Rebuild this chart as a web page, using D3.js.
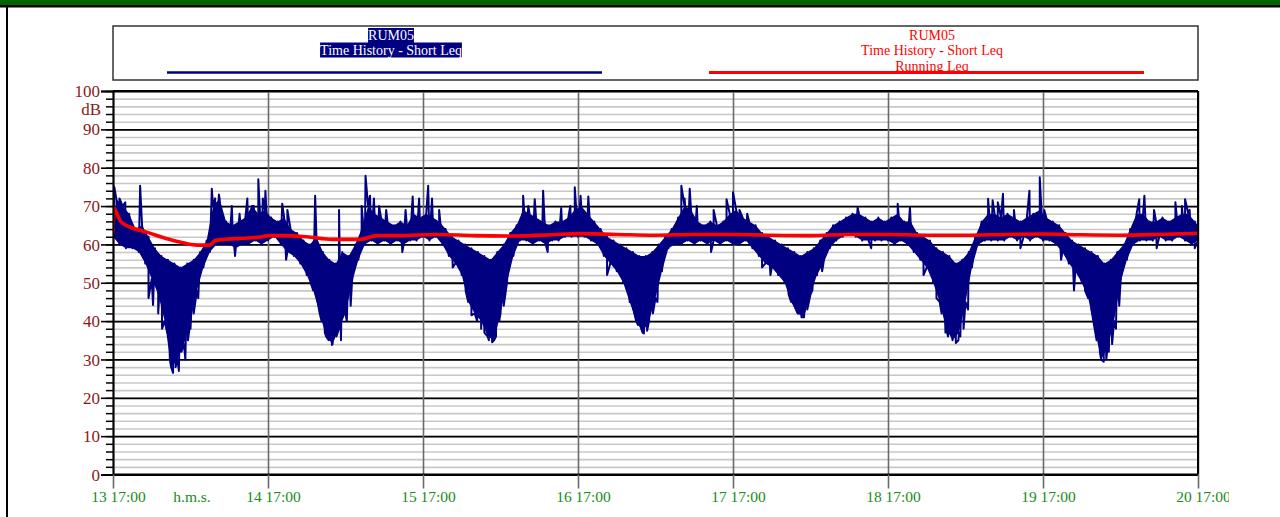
<!DOCTYPE html>
<html>
<head>
<meta charset="utf-8">
<script src="https://cdn.jsdelivr.net/npm/d3@7"></script>
<style>
  body { margin: 0; background: #ffffff; }
  svg { display: block; font-family: "Liberation Serif", "Times New Roman", serif; }
</style>
</head>
<body>
<div id="chart"></div>
<script>
// x = hours since 13 17:00, y = dB
var dayLabels = ["13 17:00", "14 17:00", "15 17:00", "16 17:00", "17 17:00", "18 17:00", "19 17:00", "20 17:00"];
var yMajor = [0, 10, 20, 30, 40, 50, 60, 70, 80, 90, 100];

// Short Leq, hourly band (low / high)
var shortLo = [
  62,60,59,59,58,55,51,47,40,28,30,34,40,48,54,58,60,60,60,59,60,60,61,60,
  61,62,60,58,57,55,52,48,42,36,34,38,42,50,56,60,61,60,61,60,61,60,61,61,
  62,61,62,60,57,55,52,45,42,40,36,35,42,50,57,61,61,60,61,60,61,61,62,62,
  62,62,61,60,57,55,53,50,45,40,37,40,46,53,59,60,60,61,60,61,60,61,60,61,
  60,60,61,59,57,55,54,52,50,45,42,41,47,52,55,59,61,62,63,62,61,61,61,61,
  61,60,61,60,58,56,54,50,45,38,35,37,45,54,60,61,61,61,61,62,61,62,61,62,
  61,61,60,58,55,53,50,46,38,30,33,40,50,56,60,61,61,61,62,61,61,62,61,60,
  61
];
var shortHi = [
  72,70,68,64,65,62,59,57,56,55,54,55,56,58,61,70,72,66,65,66,67,70,68,69,
  67,66,67,64,63,61,60,62,58,56,55,58,57,60,64,70,68,67,66,65,66,65,68,67,
  68,67,66,64,62,61,60,59,58,57,56,58,60,63,65,69,68,67,66,65,66,66,67,69,
  70,68,66,64,62,61,60,59,58,57,57,58,60,62,64,67,70,69,66,65,66,65,66,68,
  69,67,66,65,63,62,61,60,59,58,57,58,59,61,63,65,66,67,68,68,67,66,67,66,
  67,68,66,66,63,62,61,59,58,57,55,56,58,62,66,68,68,67,68,67,66,67,68,69,
  67,66,65,63,61,60,59,58,57,55,56,58,60,64,68,68,66,66,67,66,67,68,68,66,
  65
];
// short peaks above the band [hour, dB]
var peaksUp = [
  [0.2,75],[1.0,72],[1.9,71],[4.2,75.3],[15.3,74.5],[15.8,72],[16.4,73],[18.4,70],[19.6,68],
  [20.8,72],[21.8,70],[22.5,77],[23.2,72],[23.6,74],[26.2,70.6],[27.0,69],[31.3,72.7],[35.0,69],
  [38.5,70],[39.1,77.9],[39.8,72.7],[40.4,72],[41.2,70],[42.3,69],[45.3,69],[46.4,72.5],[47.4,72],
  [48.8,75.3],[49.4,72],[50.5,69],[63.5,72.7],[64.3,70],[65.3,71.8],[66.6,74],[69.4,69.5],
  [70.8,70],[71.5,74.9],[72.4,72.7],[73.6,72.5],[88.0,75.3],[88.5,72],[89.3,74.5],[90.4,70],
  [93.0,69],[95.0,71.8],[96.0,73.6],[97.0,69],[98.2,68],[115.3,69.7],[121.5,70.6],[123.4,69.7],
  [135.5,71.9],[136.2,71.5],[137.0,71],[137.8,73.2],[139.5,69],[141.9,74],[143.5,77.5],[144.2,69],
  [158.9,71.8],[159.7,72.7],[161.2,69],[164.5,71],[165.5,70],[166.0,71.8],[166.7,69]
];
// short dips below the band [hour, dB]
var peaksDown = [
  [5.5,46],[6.2,44.2],[7.0,42],[7.6,38],[8.4,37],[8.8,30],[9.3,26.5],[9.7,28],[10.2,27],[10.6,32],
  [11.2,30],[11.6,35],[12.0,38],[12.5,42],[13.2,46],[18.9,57],[26.8,56],
  [30.6,50],[31.5,47],[32.3,40],[32.8,37],[33.4,35],[33.9,33.8],[34.6,36],[35.3,35],[36.2,40],[36.8,44],
  [44.8,58],[52.6,54],[54.6,48],[55.5,41.5],[56.4,40],[57.0,38],[57.5,37],[58.2,35],[58.7,34.5],
  [59.3,36],[59.8,40],[60.5,44],[67.3,58],[76.5,52],
  [79.9,48.9],[80.6,43],[81.3,39],[81.8,38],[82.2,36.8],[82.7,37.5],[83.0,40],[83.6,42],[84.3,45],
  [92.6,58],[100.5,54],[101.8,52],[104.6,47],[105.5,44],[106.2,42],[106.6,41],[107.0,41.1],
  [107.5,43],[108.3,48],[109.8,53],[117.4,59],[125.5,52],
  [127.5,46],[128.3,42],[128.9,37],[129.3,36],[129.8,38],[130.5,34.3],[130.9,35],[131.2,36],
  [131.7,38],[132.4,43],[140.5,59],[146.8,56],
  [148.8,48],[150.5,48],[151.5,43],[152.3,35],[152.8,32],[153.4,29.4],[153.8,30],[154.2,32],
  [154.7,34],[155.3,38],[155.8,44],[161.6,59],[167.5,59]
];
// Running Leq [hour, dB]
var runningLeq = [
  [0,63],[0.15,69.5],[0.5,68.5],[1.1,66.2],[2,65],[3.1,64.2],[5.2,63.2],[8.3,61.5],[11.4,60.2],
  [13.5,59.8],[15,59.8],[15.8,61],[17,61.3],[20,61.6],[22.8,61.9],[24,62.3],[26,62.3],[30,62],
  [34,61.3],[38.2,61.3],[40.9,62.3],[44.4,62.3],[50,62.6],[56,62.3],[62,62.2],[68,62.5],[72,62.8],
  [78,62.6],[84,62.4],[90,62.6],[96,62.6],[102,62.4],[108,62.3],[114,62.6],[120,62.6],[126,62.4],
  [132,62.4],[138,62.6],[144,62.7],[150,62.5],[156,62.4],[162,62.6],[168,62.9]
];

var width = 1280, height = 517;
var pLeft = 113, pRight = 1198, pTop = 91, pBottom = 474.5;

var svg = d3.select("#chart").append("svg")
  .attr("width", width)
  .attr("height", height)

var defs = svg.append("defs")
defs.append("clipPath").attr("id", "plotclip")
  .append("rect").attr("x", pLeft).attr("y", pTop).attr("width", pRight - pLeft).attr("height", pBottom - pTop)
defs.append("clipPath").attr("id", "pageclip")
  .append("rect").attr("x", 0).attr("y", 0).attr("width", 1229).attr("height", height)

// banner + page border
svg.append("rect").attr("x", 0).attr("y", 0).attr("width", width).attr("height", 6).attr("fill", "#006400")
svg.append("rect").attr("x", 0).attr("y", 5).attr("width", width).attr("height", 2.5).attr("fill", "#000")
svg.append("rect").attr("x", 6).attr("y", 6).attr("width", 2).attr("height", height).attr("fill", "#000")

var x = d3.scaleLinear().domain([0, 168]).range([pLeft, pRight])
var y = d3.scaleLinear().domain([0, 100]).range([pBottom, pTop])

var g = svg.append("g").attr("clip-path", "url(#pageclip)")

// minor horizontal grid every 2 dB
g.append("g")
  .attr("transform", "translate(" + pLeft + ",0)")
  .call(d3.axisLeft(y).tickValues(d3.range(0, 101, 2)).tickSize(-(pRight - pLeft)).tickFormat(""))
  .call(function(a){
    a.select(".domain").remove()
    a.selectAll("line").attr("stroke", "#c8c8c8").attr("stroke-width", 1.6)
  })

// major horizontal grid
g.append("g")
  .attr("transform", "translate(" + pLeft + ",0)")
  .call(d3.axisLeft(y).tickValues(yMajor).tickSize(-(pRight - pLeft)).tickFormat(""))
  .call(function(a){
    a.select(".domain").remove()
    a.selectAll("line").attr("stroke", "#000").attr("stroke-width", 1.8)
  })

// vertical day lines
g.append("g")
  .attr("transform", "translate(0," + pBottom + ")")
  .call(d3.axisBottom(x).tickValues(d3.range(0, 169, 24)).tickSize(-(pBottom - pTop)).tickFormat(""))
  .call(function(a){
    a.select(".domain").remove()
    a.selectAll("line").attr("stroke", "#6a6a6a").attr("stroke-width", 1.6)
  })

// short leq: low at the hour, high half an hour later, peaks in between
var band = shortLo.map(function(v, h){ return { h: h, lo: v, hi: shortHi[h] } })

var pts = []
band.forEach(function(d){
  pts.push([d.h, d.lo])
  if (d.h < band.length - 1) pts.push([d.h + 0.5, d.hi])
})
peaksUp.forEach(function(p){ pts.push(p) })
peaksDown.forEach(function(p){ pts.push(p) })
pts.sort(function(a, b){ return a[0] - b[0] })

var line = d3.line()
  .x(function(d){ return x(d[0]) })
  .y(function(d){ return y(d[1]) })

var bandArea = d3.area()
  .x0(function(d){ return x(d.h) })
  .y0(function(d){ return y(d.lo) })
  .x1(function(d){ return x(Math.min(d.h + 0.5, 168)) })
  .y1(function(d){ return y(d.hi) })

var plot = g.append("g").attr("clip-path", "url(#plotclip)")

plot.append("path")
  .datum(band)
  .attr("d", bandArea)
  .attr("fill", "#000080")

plot.append("path")
  .datum(pts)
  .attr("d", line)
  .attr("fill", "none")
  .attr("stroke", "#000080")
  .attr("stroke-width", 2)
  .attr("stroke-linejoin", "round")

plot.append("path")
  .datum(runningLeq)
  .attr("d", line.curve(d3.curveMonotoneX))
  .attr("fill", "none")
  .attr("stroke", "#ff0000")
  .attr("stroke-width", 3.6)
  .attr("stroke-linejoin", "round")

// plot frame
g.append("line").attr("x1", pLeft).attr("x2", pRight).attr("y1", pTop).attr("y2", pTop).attr("stroke", "#000").attr("stroke-width", 2)
g.append("line").attr("x1", pRight).attr("x2", pRight).attr("y1", pTop).attr("y2", pBottom).attr("stroke", "#000").attr("stroke-width", 2)
g.append("line").attr("x1", pLeft).attr("x2", pRight).attr("y1", pBottom).attr("y2", pBottom).attr("stroke", "#000").attr("stroke-width", 2.2)

// y axis: minor ticks, then major ticks with labels
g.append("g")
  .attr("transform", "translate(" + pLeft + ",0)")
  .call(d3.axisLeft(y).tickValues(d3.range(0, 101, 2)).tickSize(7).tickFormat(""))
  .call(function(a){
    a.select(".domain").remove()
    a.selectAll("line").attr("stroke", "#000").attr("stroke-width", 1.5)
  })

g.append("g")
  .attr("transform", "translate(" + pLeft + ",0)")
  .call(d3.axisLeft(y).tickValues(yMajor).tickSize(12).tickPadding(1))
  .call(function(a){
    a.select(".domain").attr("stroke", "#000").attr("stroke-width", 2)
    a.selectAll("line").attr("stroke", "#000").attr("stroke-width", 1.6)
    a.selectAll("text")
      .attr("fill", "#8b1a1a")
      .style("font-family", "'Liberation Serif', serif")
      .style("font-size", "17px")
      .attr("dy", "0.33em")
  })

g.append("text")
  .attr("x", 101).attr("y", 115)
  .attr("text-anchor", "end")
  .attr("fill", "#8b1a1a")
  .style("font-size", "17px")
  .text("dB")

// x axis ticks and labels
g.append("g")
  .attr("transform", "translate(0," + pBottom + ")")
  .call(d3.axisBottom(x).tickValues(d3.range(0, 169, 24)).tickSize(14).tickPadding(0)
    .tickFormat(function(d, i){ return dayLabels[i] }))
  .call(function(a){
    a.select(".domain").remove()
    a.selectAll("line").attr("stroke", "#6a6a6a").attr("stroke-width", 1.6)
    a.selectAll("text")
      .attr("fill", "#1a8c1a")
      .attr("dx", 5)
      .attr("y", 27.5)
      .attr("dy", 0)
      .style("font-family", "'Liberation Serif', serif")
      .style("font-size", "15.5px")
  })

g.append("text")
  .attr("x", 192).attr("y", 502)
  .attr("text-anchor", "middle")
  .attr("fill", "#1a8c1a")
  .style("font-size", "15.5px")
  .text("h.m.s.")

// legend
var legend = svg.append("g")
legend.append("rect")
  .attr("x", pLeft).attr("y", 26).attr("width", pRight - pLeft).attr("height", 54)
  .attr("fill", "#fff").attr("stroke", "#333").attr("stroke-width", 1.5)

var blueLines = ["RUM05", "Time History - Short Leq"]
var redLines = ["RUM05", "Time History - Short Leq", "Running Leq"]
var baselines = [40, 54.5, 71]

var blueText = legend.selectAll(".bluetxt")
  .data(blueLines).enter().append("text")
  .attr("class", "bluetxt")
  .attr("x", 391)
  .attr("y", function(d, i){ return baselines[i] })
  .attr("text-anchor", "middle")
  .attr("fill", "#fff")
  .style("font-size", "14px")
  .text(function(d){ return d })

blueText.each(function(){
  var b = this.getBBox()
  legend.insert("rect", ".bluetxt")
    .attr("x", b.x).attr("y", b.y).attr("width", b.width).attr("height", b.height)
    .attr("fill", "#000080")
})

legend.append("line")
  .attr("x1", 167).attr("x2", 602).attr("y1", 72.5).attr("y2", 72.5)
  .attr("stroke", "#000080").attr("stroke-width", 2.5)

legend.append("line")
  .attr("x1", 709).attr("x2", 1144).attr("y1", 72.5).attr("y2", 72.5)
  .attr("stroke", "#ff0000").attr("stroke-width", 3)

legend.selectAll(".redtxt")
  .data(redLines).enter().append("text")
  .attr("class", "redtxt")
  .attr("x", 932)
  .attr("y", function(d, i){ return baselines[i] })
  .attr("text-anchor", "middle")
  .attr("fill", "#ff0000")
  .style("font-size", "14px")
  .text(function(d){ return d })
</script>
</body>
</html>
